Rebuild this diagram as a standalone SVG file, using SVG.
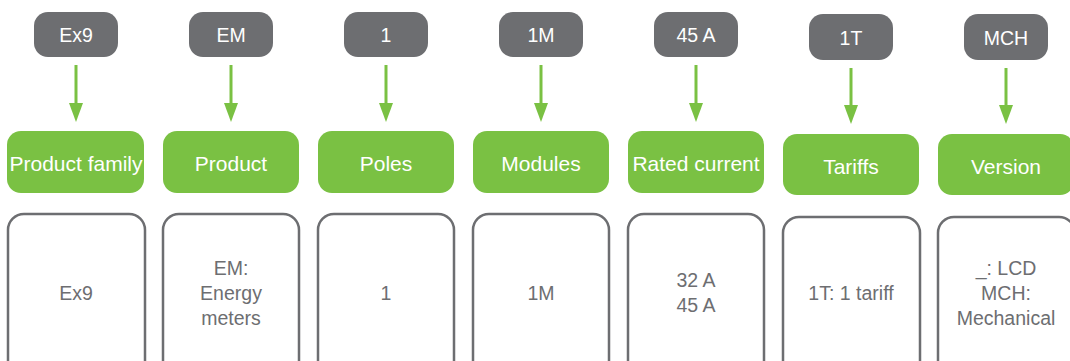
<svg xmlns="http://www.w3.org/2000/svg" width="1070" height="361" viewBox="0 0 1070 361">
<defs>
<style>
.code{fill:#6d6e71}
.cat{fill:#7ac143}
.desc{fill:#ffffff;stroke:#6d6e71;stroke-width:2.5}
.t{font-family:"Liberation Sans",Arial,sans-serif;text-anchor:middle;dominant-baseline:central}
.tw{fill:#ffffff;font-size:19.5px}
.tc{fill:#ffffff;font-size:21px}
.tg{fill:#6d6e71;font-size:19.5px}
.arr{stroke:#7ac143;stroke-width:3;fill:none}
.ah{fill:#7ac143}
</style>
</defs>
<rect width="1070" height="361" fill="#ffffff"/>
<g id="connectors">
<line class="arr" x1="76" y1="65" x2="76" y2="104"/><path class="ah" d="M69,103 L83,103 L76,122 Z"/>
<line class="arr" x1="231" y1="65" x2="231" y2="104"/><path class="ah" d="M224,103 L238,103 L231,122 Z"/>
<line class="arr" x1="386" y1="65" x2="386" y2="104"/><path class="ah" d="M379,103 L393,103 L386,122 Z"/>
<line class="arr" x1="541" y1="65" x2="541" y2="104"/><path class="ah" d="M534,103 L548,103 L541,122 Z"/>
<line class="arr" x1="696" y1="65" x2="696" y2="104"/><path class="ah" d="M689,103 L703,103 L696,122 Z"/>
<line class="arr" x1="851" y1="68" x2="851" y2="106"/><path class="ah" d="M844,105 L858,105 L851,124 Z"/>
<line class="arr" x1="1006" y1="68" x2="1006" y2="106"/><path class="ah" d="M999,105 L1013,105 L1006,124 Z"/>
</g>
<g id="col1">
<g id="code-ex9"><rect class="code" x="34" y="12" width="84" height="45" rx="14"/><text class="t tw" x="76" y="35">Ex9</text></g>
<g id="cat-product-family"><rect class="cat" x="7" y="131" width="137" height="62" rx="14"/><text class="t tc" x="76" y="163">Product family</text></g>
<g id="desc-ex9"><rect class="desc" x="8" y="214" width="137" height="165" rx="16"/><text class="t tg" x="76" y="293">Ex9</text></g>
</g>
<g id="col2">
<g id="code-em"><rect class="code" x="189" y="12" width="84" height="45" rx="14"/><text class="t tw" x="231" y="35">EM</text></g>
<g id="cat-product"><rect class="cat" x="163" y="131" width="136" height="62" rx="14"/><text class="t tc" x="231" y="163">Product</text></g>
<g id="desc-em"><rect class="desc" x="163" y="214" width="136" height="165" rx="16"/>
<text class="t tg" x="231" y="268">EM:</text><text class="t tg" x="231" y="293">Energy</text><text class="t tg" x="231" y="318">meters</text></g>
</g>
<g id="col3">
<g id="code-1"><rect class="code" x="344" y="12" width="84" height="45" rx="14"/><text class="t tw" x="386" y="35">1</text></g>
<g id="cat-poles"><rect class="cat" x="318" y="131" width="136" height="62" rx="14"/><text class="t tc" x="386" y="163">Poles</text></g>
<g id="desc-1"><rect class="desc" x="318" y="214" width="136" height="165" rx="16"/><text class="t tg" x="386" y="293">1</text></g>
</g>
<g id="col4">
<g id="code-1m"><rect class="code" x="499" y="12" width="84" height="45" rx="14"/><text class="t tw" x="541" y="35">1M</text></g>
<g id="cat-modules"><rect class="cat" x="473" y="131" width="136" height="62" rx="14"/><text class="t tc" x="541" y="163">Modules</text></g>
<g id="desc-1m"><rect class="desc" x="473" y="214" width="136" height="165" rx="16"/><text class="t tg" x="541" y="293">1M</text></g>
</g>
<g id="col5">
<g id="code-45a"><rect class="code" x="654" y="12" width="84" height="45" rx="14"/><text class="t tw" x="696" y="35">45 A</text></g>
<g id="cat-rated-current"><rect class="cat" x="628" y="131" width="136" height="62" rx="14"/><text class="t tc" x="696" y="163">Rated current</text></g>
<g id="desc-45a"><rect class="desc" x="628" y="214" width="136" height="165" rx="16"/>
<text class="t tg" x="696" y="280">32 A</text><text class="t tg" x="696" y="305">45 A</text></g>
</g>
<g id="col6">
<g id="code-1t"><rect class="code" x="809" y="14" width="84" height="46" rx="14"/><text class="t tw" x="851" y="38">1T</text></g>
<g id="cat-tariffs"><rect class="cat" x="783" y="134" width="136" height="61" rx="14"/><text class="t tc" x="851" y="166">Tariffs</text></g>
<g id="desc-1t"><rect class="desc" x="783" y="217" width="137" height="165" rx="16"/><text class="t tg" x="851" y="293">1T: 1 tariff</text></g>
</g>
<g id="col7">
<g id="code-mch"><rect class="code" x="964" y="14" width="84" height="46" rx="14"/><text class="t tw" x="1006" y="38">MCH</text></g>
<g id="cat-version"><rect class="cat" x="938" y="134" width="136" height="61" rx="14"/><text class="t tc" x="1006" y="166">Version</text></g>
<g id="desc-mch"><rect class="desc" x="938" y="217" width="137" height="165" rx="16"/>
<text class="t tg" x="1006" y="268">_: LCD</text><text class="t tg" x="1006" y="293">MCH:</text><text class="t tg" x="1006" y="318">Mechanical</text></g>
</g>
</svg>
